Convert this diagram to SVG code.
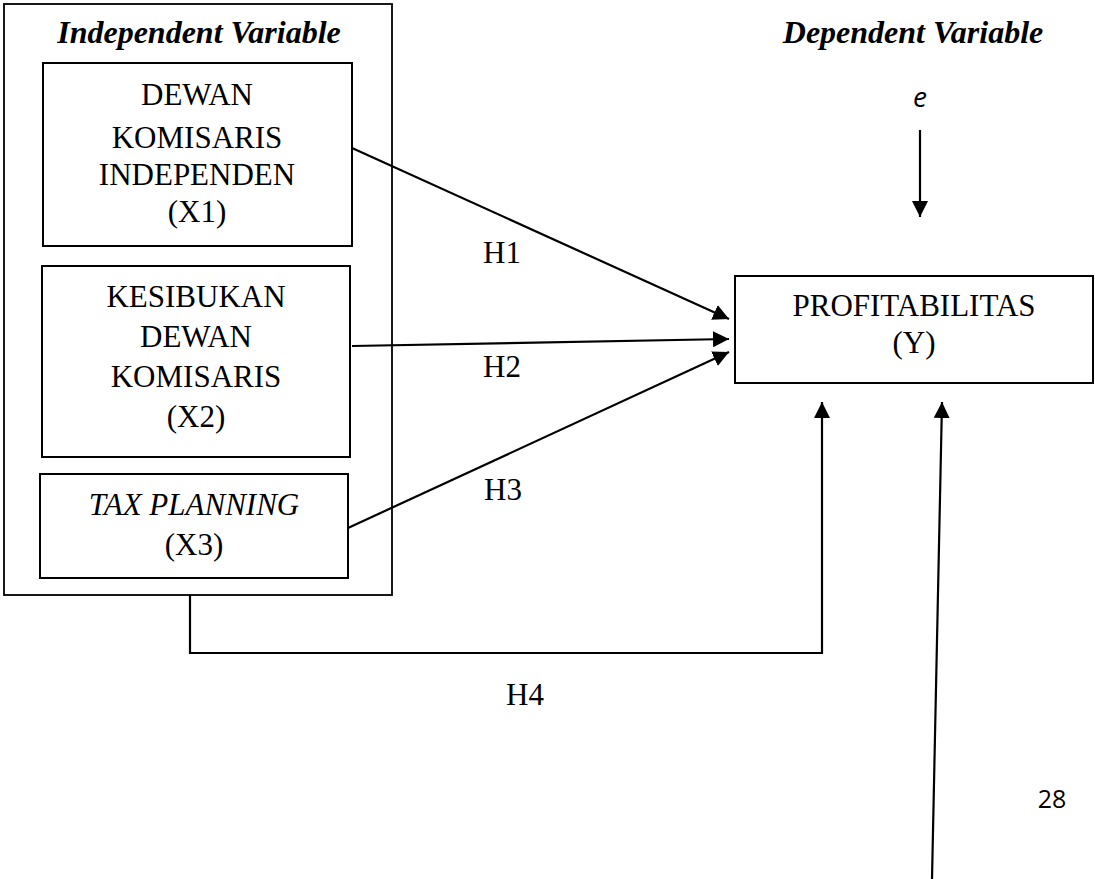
<svg xmlns="http://www.w3.org/2000/svg" width="1095" height="879" viewBox="0 0 1095 879">
<style>
.box{fill:#fff;stroke:#000;stroke-width:2}
.t{font-family:"Liberation Serif","Times New Roman",serif;font-size:31px;fill:#000;text-anchor:middle}
.h{font-family:"Liberation Serif","Times New Roman",serif;font-size:32px;font-weight:bold;font-style:italic;fill:#000;text-anchor:middle}
.c{fill:none;stroke:#000;stroke-width:2.2}
.s{font-family:"Open Sans","DejaVu Sans",sans-serif;fill:#000;text-anchor:middle}
</style>
<defs>
<marker id="ah" markerUnits="userSpaceOnUse" markerWidth="17" markerHeight="16" refX="16" refY="8" orient="auto" viewBox="0 0 17 16">
<path d="M0,0 L16,8 L0,16 Z" fill="#000"/>
</marker>
</defs>
<rect width="1095" height="879" fill="#fff"/>
<g id="independent-group">
<rect x="4" y="4" width="388" height="591" fill="none" stroke="#000" stroke-width="1.8"/>
<text class="h" x="199" y="43">Independent Variable</text>
</g>
<g id="x1">
<rect class="box" x="43" y="63" width="309" height="183"/>
<text class="t" x="197" y="105">DEWAN</text>
<text class="t" x="197" y="148">KOMISARIS</text>
<text class="t" x="197" y="185">INDEPENDEN</text>
<text class="t" x="197" y="222">(X1)</text>
</g>
<g id="x2">
<rect class="box" x="42" y="266" width="308" height="191"/>
<text class="t" x="196" y="307">KESIBUKAN</text>
<text class="t" x="196" y="347">DEWAN</text>
<text class="t" x="196" y="387">KOMISARIS</text>
<text class="t" x="196" y="427">(X2)</text>
</g>
<g id="x3">
<rect class="box" x="40" y="474" width="308" height="104"/>
<text class="t" x="194" y="515" font-style="italic">TAX PLANNING</text>
<text class="t" x="194" y="555">(X3)</text>
</g>
<g id="dependent-label">
<text class="h" x="913" y="43">Dependent Variable</text>
</g>
<g id="e">
<text class="s" x="920" y="107" font-size="28" font-style="italic">e</text>
</g>
<g id="y">
<rect class="box" x="735" y="276" width="358" height="107"/>
<text class="t" x="914" y="316">PROFITABILITAS</text>
<text class="t" x="914" y="353">(Y)</text>
</g>
<g id="connectors">
<line class="c" x1="352" y1="148" x2="729" y2="319" marker-end="url(#ah)"/>
<line class="c" x1="352" y1="346" x2="729" y2="339" marker-end="url(#ah)"/>
<line class="c" x1="348" y1="528" x2="729" y2="352" marker-end="url(#ah)"/>
<polyline class="c" points="190,595 190,653 822,653 822,402" marker-end="url(#ah)"/>
<line class="c" x1="920" y1="130" x2="920" y2="217" marker-end="url(#ah)"/>
<line class="c" x1="932" y1="879" x2="942" y2="402" marker-end="url(#ah)"/>
<text class="t" x="502" y="263">H1</text>
<text class="t" x="502" y="377">H2</text>
<text class="t" x="503" y="500">H3</text>
<text class="t" x="525" y="705">H4</text>
</g>
<g id="page-number">
<text class="s" x="1052" y="808" font-size="25">28</text>
</g>
</svg>
